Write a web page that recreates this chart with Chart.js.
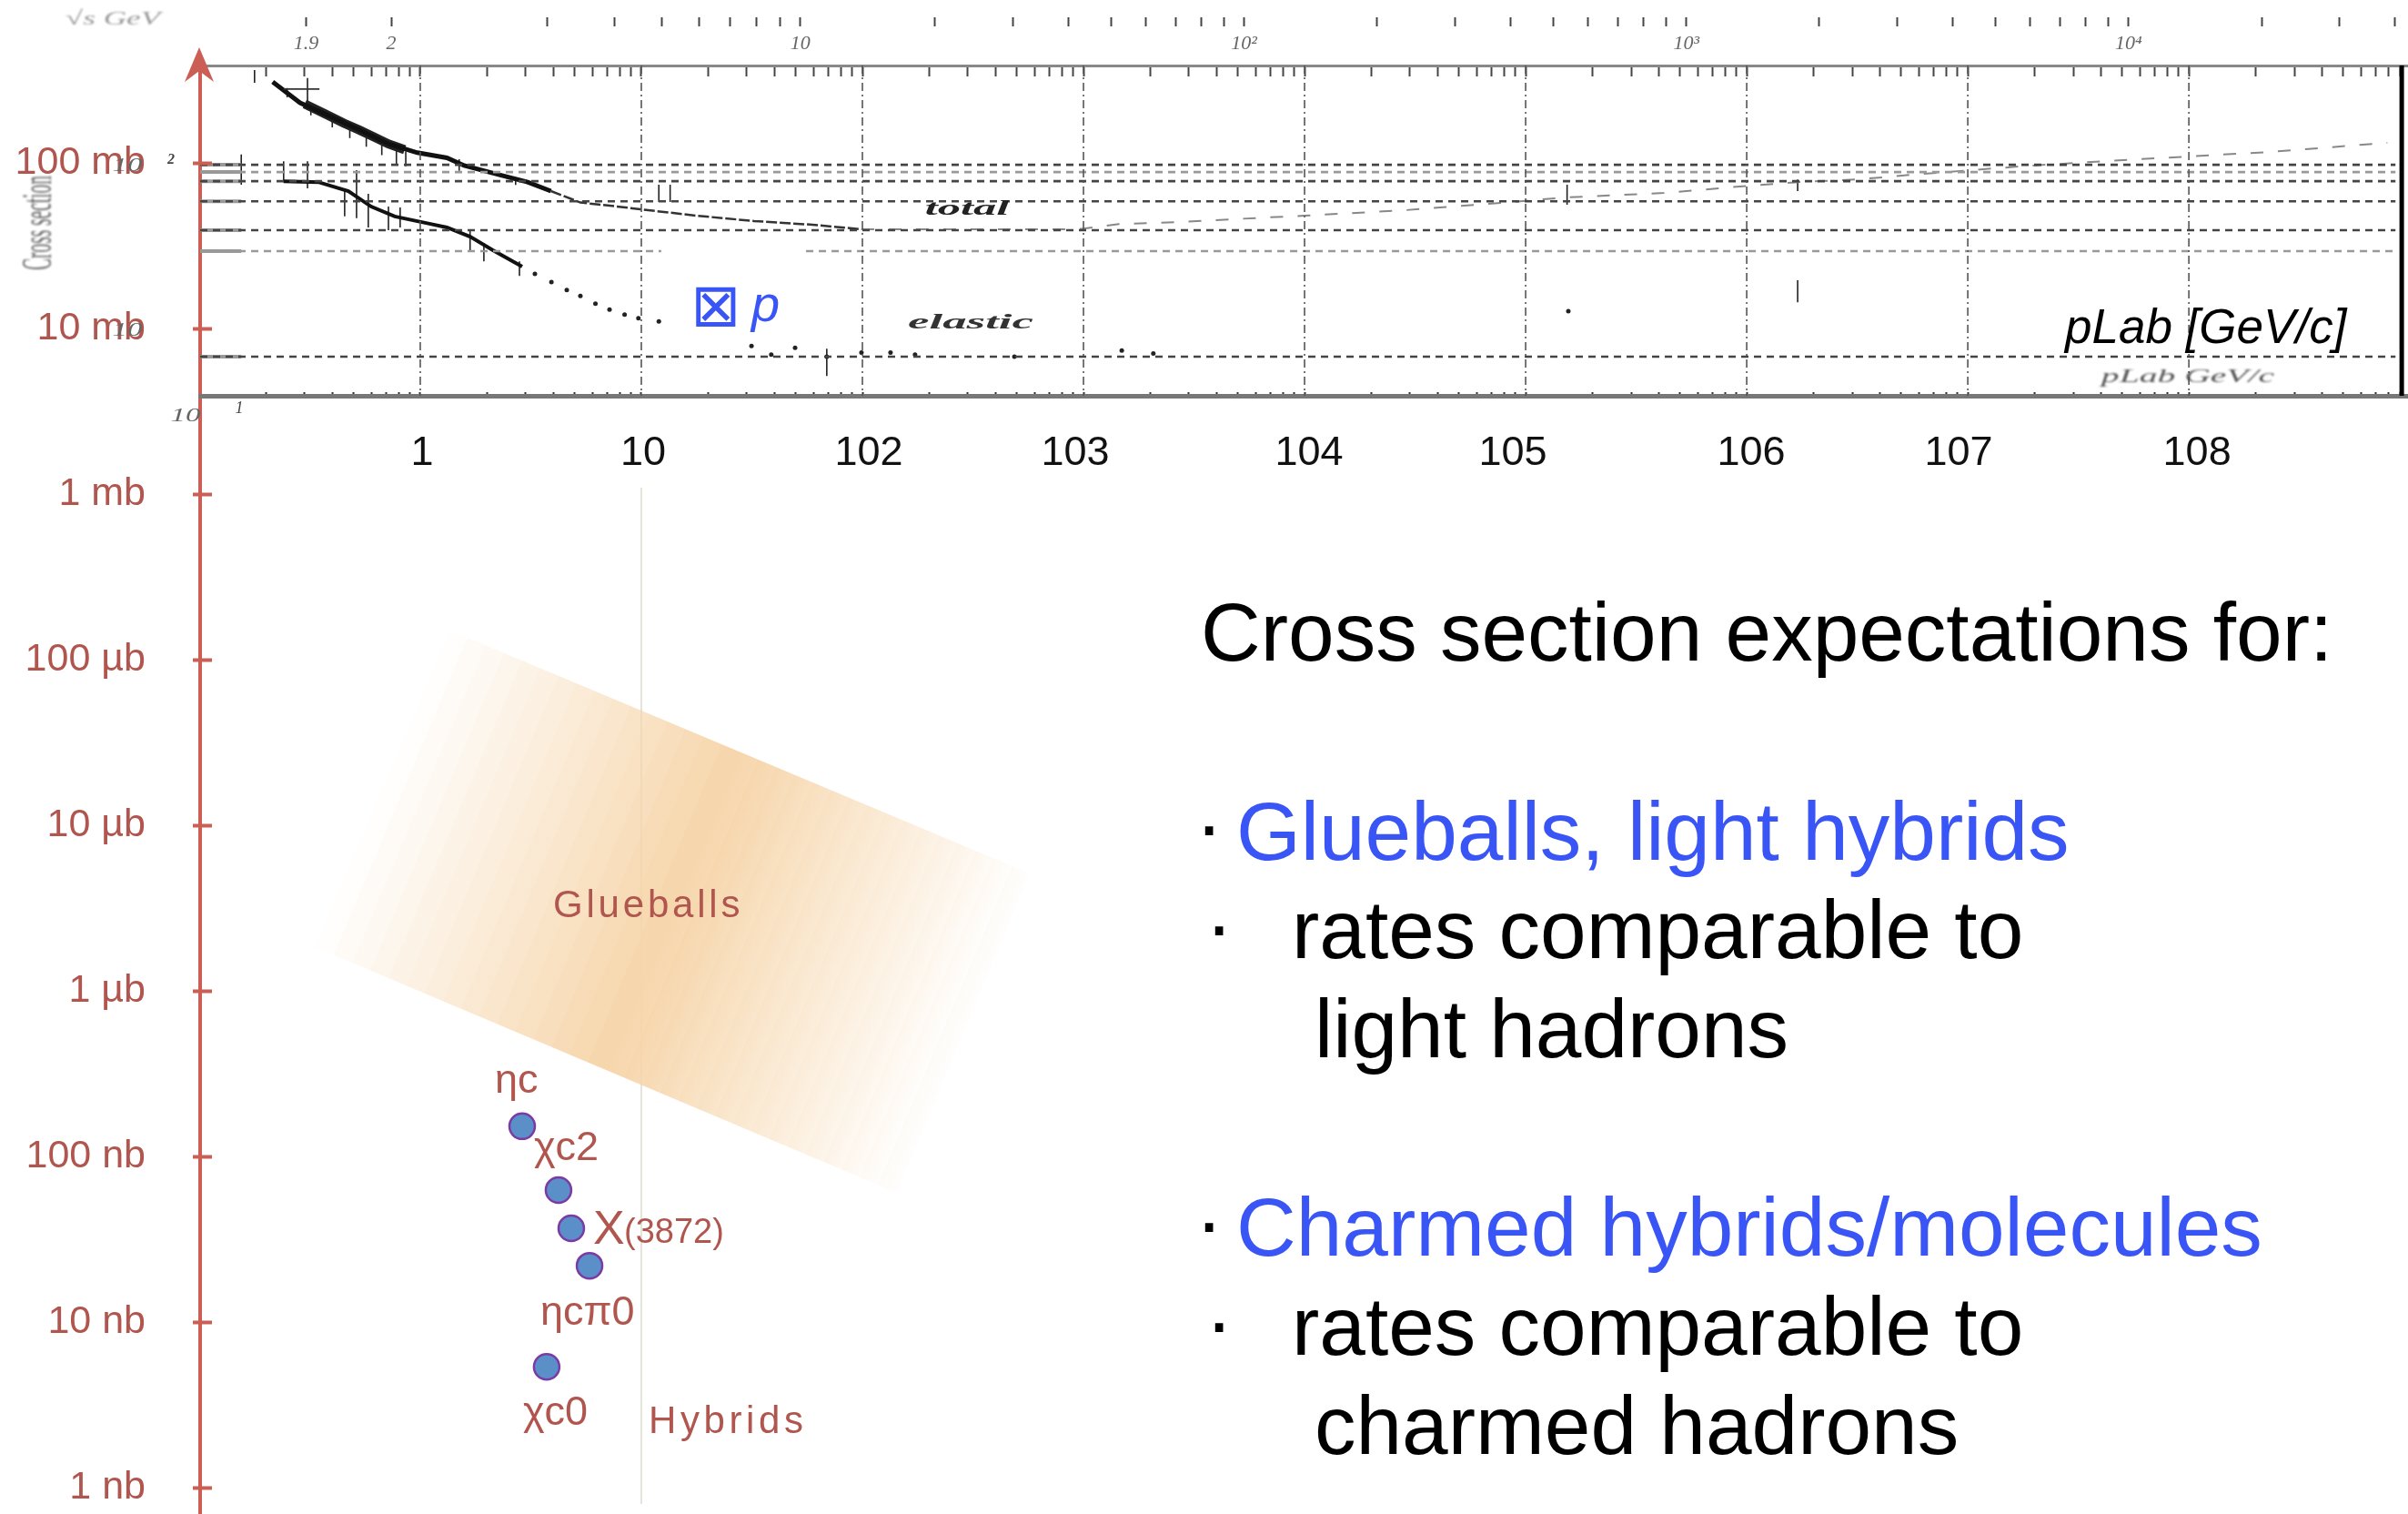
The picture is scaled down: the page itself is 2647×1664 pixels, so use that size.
<!DOCTYPE html>
<html>
<head>
<meta charset="utf-8">
<title>Cross section expectations</title>
<script src="https://cdn.jsdelivr.net/npm/chart.js@4/dist/chart.umd.min.js"></script>
<style>
  html, body { margin: 0; background: #fff; }
  canvas { display: block; }
</style>
</head>
<body>
<canvas id="chart" width="2647" height="1664"></canvas>
<script>
/* ── Data: x is pLab in GeV/c, y is cross section in mb ── */
const yTicks = [100, 10, 1, 0.1, 0.01, 0.001, 1e-4, 1e-5, 1e-6];
const yTickLabels = ['100 mb', '10 mb', '1 mb', '100 µb', '10 µb', '1 µb', '100 nb', '10 nb', '1 nb'];

const xDecades = [1, 10, 100, 1e3, 1e4, 1e5, 1e6, 1e7, 1e8];
const xTickLabels = ['1', '10', '102', '103', '104', '105', '106', '107', '108'];

const sqrtS = [1.9, 2, 3, 4, 5, 6, 7, 8, 9, 10, 20, 30, 40, 50, 60, 70, 80, 90, 100,
  200, 300, 400, 500, 600, 700, 800, 900, 1000, 2000, 3000, 4000, 5000, 6000, 7000, 8000, 9000, 1e4, 2e4, 3e4, 4e4];
const sqrtSLabels = { 1.9: '1.9', 2: '2', 10: '10', 100: '10²', 1000: '10³', 10000: '10⁴' };

const totalDenseX = [0.215, 0.286, 0.37, 0.53, 0.718, 0.97, 1.32, 1.58, 2.3, 3.06, 3.9];
const totalDenseY = [310, 232, 199, 159, 131, 116, 108, 97, 85, 77, 68];
const totalCoreX = [0.3, 0.37, 0.45, 0.53, 0.62, 0.718, 0.85];
const totalCoreY = [228, 199, 175, 159, 144, 131, 121];
const totalMidX = [3.9, 5.3, 7.2, 9.9, 17.7, 32.4, 59.4, 99];
const totalMidY = [68, 58, 55.5, 52.8, 48.3, 44.8, 42.6, 40];
const totalHighX = [99, 164, 300, 551, 944, 1445, 2810, 6530, 1e4, 27800, 77500, 150000, 423000, 927000,
  1.7e6, 3.2e6, 6.3e6, 1.94e7, 6e7, 2.3e8, 7.9e8];
const totalHighY = [40, 40, 40, 40, 40, 43, 44.3, 47, 48.3, 52, 57.7, 62.2, 66.2, 72.4, 77, 80, 86.5, 96.9, 106, 117, 133];

const elasticDenseX = [0.241, 0.346, 0.473, 0.6, 0.767, 1.1, 1.32, 1.68, 2.13, 2.89];
const elasticDenseY = [78, 77, 68, 54.8, 47.8, 43.2, 41, 36.1, 29.9, 23.8];
const elasticDotsX = [3.3, 3.92, 4.6, 5.3, 6.2, 7.18, 8.4, 9.7, 12, 31.5, 38.7, 49.6, 69, 99, 134, 173, 487, 1490, 2070, 156000];
const elasticDotsY = [21.5, 19.2, 17.2, 15.8, 14.2, 13.1, 12.2, 11.6, 11.1, 7.9, 7, 7.7, 6.8, 7.2, 7.2, 7, 6.8, 7.4, 7.1, 12.8];

const errX = [0.155, 0.178, 0.241, 0.309, 0.309, 0.455, 0.515, 0.582, 0.718, 0.811, 1.68, 1.94, 2.81, 12, 13.5, 69, 154000, 1.7e6, 1.7e6,
  0.25, 0.32, 0.4, 0.48, 0.57, 0.67, 0.78, 0.86, 1.5, 2.7];
const errLo = [74.3, 306, 77, 220, 70.6, 47.8, 46.6, 41, 39.5, 41, 29.1, 25.6, 20.9, 58.4, 58.4, 5.2, 56.2, 68, 14.5,
  250, 195, 165, 142, 126, 112, 98, 96, 90, 74];
const errHi = [113, 366, 103, 327, 103, 70.6, 91, 65.5, 54.8, 54.2, 39.5, 33, 25.6, 74.3, 74.3, 7.6, 74.3, 80, 19.7,
  285, 222, 190, 162, 146, 132, 124, 118, 106, 82];

const hLineValues = [98, 78, 59, 39.5, 6.8];
const hLineLight = [88.6, 29.5];

const particleNames = ['ηc', 'χc2', 'X(3872)', 'ηcπ0', 'χc0'];
const particleX = [2.89, 4.22, 4.82, 5.83, 3.73];
const particleY = [1.53e-4, 6.3e-5, 3.7e-5, 2.2e-5, 5.4e-6];

const glueballX = [1.37, 571, 143, 0.333];
const glueballY = [0.151, 0.00514, 6.07e-5, 0.00185];

/* ── Axis extents ───────────────────────────────── */
const X_MIN = 0.101, X_MAX = 9.8e8;
const Y_MIN = 6.97e-7, Y_MAX = 389.7;
const PANEL_BOTTOM = 3.94;
const LINE_END = 8.6e8, RIGHT_EDGE = 9.18e8, STUB_END = 0.155;

const RED = '#cb5f55', RED_TEXT = '#b0564e', BLUE = '#3a55f5';
const SANS = '"Liberation Sans", Arial, sans-serif';
const SERIF = '"Liberation Serif", serif';

/* ── Helpers ────────────────────────────────────── */
const zip = (xs, ys) => xs.map((x, i) => ({ x, y: ys[i] }));

// proton on proton at rest: convert sqrt(s) to lab momentum
function plabFromSqrtS(t) {
  const m = 0.938;
  const e = (t * t - 2 * m * m) / (2 * m);
  return Math.sqrt(e * e - m * m);
}

function hSegments(values, gapFrom, gapTo) {
  const out = [];
  values.forEach(v => {
    if (v === 29.5) {
      out.push({ x: X_MIN, y: v }, { x: gapFrom, y: v }, { x: gapFrom, y: null }, { x: gapTo, y: v }, { x: LINE_END, y: v }, { x: LINE_END, y: null });
    } else {
      out.push({ x: X_MIN, y: v }, { x: LINE_END, y: v }, { x: LINE_END, y: null });
    }
  });
  return out;
}

function frameTicks() {
  const out = [];
  for (let d = -1; d <= 8; d++) {
    for (let m = 1; m <= 9; m++) {
      const v = m * Math.pow(10, d);
      if (v > X_MIN && v < X_MAX) out.push(v);
    }
  }
  return out;
}

function glueballFill(context) {
  const chart = context.chart;
  if (!chart.chartArea) return 'rgba(246,213,170,0.5)';
  const { x, y } = chart.scales;
  const px = i => [x.getPixelForValue(glueballX[i]), y.getPixelForValue(glueballY[i])];
  const [a, b, c, d] = [px(0), px(1), px(2), px(3)];
  const g = chart.ctx.createLinearGradient((a[0] + d[0]) / 2, (a[1] + d[1]) / 2, (b[0] + c[0]) / 2, (b[1] + c[1]) / 2);
  const bands = 16;
  for (let i = 0; i < bands; i++) {
    const alpha = (i + 0.5) / bands;
    const col = `rgba(246,213,170,${alpha})`;
    g.addColorStop(i / (2 * bands), col);
    g.addColorStop((i + 1) / (2 * bands), col);
    g.addColorStop(1 - (i + 1) / (2 * bands), col);
    g.addColorStop(1 - i / (2 * bands), col);
  }
  return g;
}

// no reserved space: pinned axes live inside the chart area
function noSpace(s) {
  s.height = 0;
  s.paddingLeft = s.paddingRight = s.paddingTop = s.paddingBottom = 0;
}

// thin log x axis pinned to a height on the y scale
function pinnedAxis(yValue, ticks, extra) {
  return Object.assign({
    type: 'logarithmic',
    min: X_MIN,
    max: X_MAX,
    position: { y: yValue },
    afterFit: noSpace,
    afterBuildTicks: s => { s.ticks = ticks.map(value => ({ value })); },
    ticks: { display: false, autoSkip: false, maxRotation: 0, minRotation: 0 },
    grid: { drawOnChartArea: false, drawTicks: true, tickLength: 10, tickColor: '#444', tickWidth: 2 },
    border: { display: false }
  }, extra);
}

/* ── Text and arrow drawn on top ────────────────── */
function put(ctx, str, x, y, o) {
  ctx.save();
  ctx.translate(x, y);
  if (o.rot) ctx.rotate(o.rot);
  if (o.sx || o.sy) ctx.scale(o.sx || 1, o.sy || 1);
  ctx.font = o.font;
  ctx.fillStyle = o.color || '#000';
  ctx.textAlign = o.align || 'left';
  ctx.textBaseline = 'alphabetic';
  if (o.spacing) ctx.letterSpacing = o.spacing;
  if (o.blur) ctx.filter = `blur(${o.blur}px)`;
  ctx.fillText(str, 0, 0);
  ctx.restore();
}

const overlay = {
  id: 'overlay',
  beforeDraw(chart) {
    // hand placed x labels in the original sit a little off their gridlines
    const nudges = [2, 2, 7, -9, 5, -14, 5, -10, 9];
    chart.scales.x.getLabelItems().forEach((it, i) => { it.options.translation[0] += nudges[i]; });
  },
  afterDraw(chart) {
    const { ctx, scales: { y } } = chart;
    const axisX = y.right;

    // y axis tick marks cross the line
    ctx.strokeStyle = RED;
    ctx.lineWidth = 4;
    y.ticks.forEach(t => {
      const py = y.getPixelForValue(t.value);
      ctx.beginPath();
      ctx.moveTo(axisX - 8, py);
      ctx.lineTo(axisX + 13, py);
      ctx.stroke();
    });

    // arrow head
    ctx.fillStyle = RED;
    ctx.beginPath();
    ctx.moveTo(axisX - 1, 52);
    ctx.lineTo(axisX + 15, 90);
    ctx.lineTo(axisX - 1, 78);
    ctx.lineTo(axisX - 17, 90);
    ctx.closePath();
    ctx.fill();

    // leftovers of the scanned plot
    const scan = { font: `italic 22px ${SERIF}`, color: '#666', sx: 1.5, blur: 0.7, align: 'center' };
    put(ctx, '√s GeV', 124, 27, { font: `italic 22px ${SERIF}`, color: '#9a9a9a', sx: 1.6, blur: 0.8, align: 'center' });
    put(ctx, 'Cross section', 56, 245, { font: `46px ${SERIF}`, color: '#666', rot: -Math.PI / 2, sx: 0.42, align: 'center', blur: 0.8 });
    put(ctx, '2', 188, 180, { font: `bold italic 16px ${SERIF}`, color: '#444', blur: 0.5, align: 'center' });
    put(ctx, '10', 140, 188, scan);
    put(ctx, '10', 140, 369, scan);
    put(ctx, '1', 263, 454, { font: `italic 18px ${SERIF}`, color: '#444', blur: 0.5, align: 'center' });
    put(ctx, '10', 204, 463, scan);
    put(ctx, 'total', 1063, 236, { font: `bold italic 24px ${SERIF}`, color: '#222', sx: 2.1, blur: 0.6, align: 'center' });
    put(ctx, 'elastic', 1067, 361, { font: `bold italic 24px ${SERIF}`, color: '#333', sx: 2.2, blur: 0.6, align: 'center' });
    put(ctx, 'pLab GeV/c', 2405, 420, { font: `italic 22px ${SERIF}`, color: '#555', sx: 1.8, blur: 0.8, align: 'center' });

    // axis captions
    put(ctx, 'pLab [GeV/c]', 2270, 377, { font: `italic 53px ${SANS}`, color: '#000' });
    put(ctx, '⊠', 787, 358, { font: '66px "DejaVu Sans"', color: BLUE, align: 'center' });
    put(ctx, 'p', 826, 353, { font: `italic 56px ${SANS}`, color: BLUE });

    // particle names
    const red = { font: `45px ${SANS}`, color: RED_TEXT };
    put(ctx, 'Glueballs', 608, 1008, { font: `42px ${SANS}`, color: RED_TEXT, spacing: '3.8px' });
    put(ctx, 'Hybrids', 713, 1575, { font: `42px ${SANS}`, color: RED_TEXT, spacing: '4.6px' });
    put(ctx, particleNames[0], 544, 1201, red);
    put(ctx, particleNames[1], 587, 1275, red);
    put(ctx, 'X', 652, 1367, { font: `52px ${SANS}`, color: RED_TEXT });
    put(ctx, '(3872)', 686, 1366, { font: `38px ${SANS}`, color: RED_TEXT });
    put(ctx, particleNames[3], 594, 1456, red);
    put(ctx, particleNames[4], 575, 1566, red);

    // text block on the right
    const big = { font: `91px ${SANS}`, color: '#000' };
    const blue = { font: `91px ${SANS}`, color: BLUE };
    put(ctx, 'Cross section expectations for:', 1320, 726, big);
    put(ctx, '·', 1314, 938, big);
    put(ctx, 'Glueballs, light hybrids', 1359, 945, blue);
    put(ctx, '·', 1325, 1048, big);
    put(ctx, 'rates comparable to', 1420, 1053, big);
    put(ctx, 'light hadrons', 1445, 1162, big);
    put(ctx, '·', 1314, 1374, big);
    put(ctx, 'Charmed hybrids/molecules', 1359, 1380, blue);
    put(ctx, '·', 1325, 1484, big);
    put(ctx, 'rates comparable to', 1420, 1489, big);
    put(ctx, 'charmed hadrons', 1445, 1598, big);
  }
};

/* ── Chart ──────────────────────────────────────── */
const line = (data, color, width, extra) => Object.assign({
  data, showLine: true, borderColor: color, borderWidth: width, pointRadius: 0, spanGaps: false
}, extra);

const gridData = [];
xDecades.forEach(x => gridData.push({ x, y: Y_MAX }, { x, y: PANEL_BOTTOM }, { x, y: null }));

const errData = [];
errX.forEach((x, i) => errData.push({ x, y: errLo[i] }, { x, y: errHi[i] }, { x, y: null }));

const stubData = [];
hLineValues.concat(hLineLight).forEach(y => stubData.push({ x: X_MIN, y }, { x: STUB_END, y }, { x: STUB_END, y: null }));

new Chart(document.getElementById('chart'), {
  type: 'scatter',
  data: {
    datasets: [
      line(zip(glueballX, glueballY), 'transparent', 0, { fill: 'shape', backgroundColor: glueballFill }),
      line([{ x: 10, y: 1.1 }, { x: 10, y: 8e-7 }], '#e4e4da', 2),
      line(gridData, '#555', 1.6, { borderDash: [9, 4, 2, 4] }),
      line(hSegments(hLineValues, 12.3, 55.6), '#444', 2.6, { borderDash: [8, 6] }),
      line(hSegments(hLineLight, 12.3, 55.6), '#999', 2.6, { borderDash: [8, 6] }),
      line(stubData, '#999', 4),
      line([{ x: 0.241, y: 281 }, { x: 0.35, y: 281 }], '#333', 1.6),
      line(zip(totalDenseX, totalDenseY), '#111', 5),
      line(zip(totalCoreX, totalCoreY), '#222', 10),
      line(zip(totalMidX, totalMidY), '#333', 2.5, { borderDash: [12, 3] }),
      line(zip(totalHighX, totalHighY), '#888', 2, { borderDash: [14, 16] }),
      line(zip(elasticDenseX, elasticDenseY), '#111', 4),
      { data: zip(elasticDotsX, elasticDotsY), pointRadius: 2.5, pointBackgroundColor: '#222', pointBorderWidth: 0 },
      line(errData, '#222', 1.6),
      line([{ x: RIGHT_EDGE, y: Y_MAX }, { x: RIGHT_EDGE, y: PANEL_BOTTOM }], '#000', 5),
      {
        data: zip(particleX, particleY),
        pointRadius: 14,
        pointBackgroundColor: '#5a8fc8',
        pointBorderColor: '#7b3aa6',
        pointBorderWidth: 2.5
      }
    ]
  },
  options: {
    responsive: false,
    animation: false,
    events: [],
    layout: { autoPadding: false, padding: { top: 72, right: 0, bottom: 0, left: 0 } },
    plugins: { legend: { display: false }, tooltip: { enabled: false } },
    scales: {
      y: {
        type: 'logarithmic',
        min: Y_MIN,
        max: Y_MAX,
        position: 'left',
        afterFit: s => {
          s.width = 220;
          s.paddingTop = s.paddingBottom = 0;
        },
        afterBuildTicks: s => { s.ticks = yTicks.map(value => ({ value })); },
        grid: { display: false, drawTicks: false },
        border: { display: true, color: RED, width: 4 },
        ticks: {
          autoSkip: false,
          padding: 60,
          color: RED_TEXT,
          font: { family: SANS, size: 43 },
          callback: v => yTickLabels[yTicks.indexOf(v)] ?? ''
        }
      },
      x: {
        type: 'logarithmic',
        min: X_MIN,
        max: X_MAX,
        position: { y: PANEL_BOTTOM },
        afterFit: noSpace,
        afterBuildTicks: s => { s.ticks = xDecades.map(value => ({ value })); },
        grid: { display: false, drawTicks: false },
        border: { display: true, color: '#777', width: 5 },
        ticks: {
          autoSkip: false,
          maxRotation: 0,
          minRotation: 0,
          padding: 36,
          color: '#111',
          font: { family: SANS, size: 45 },
          callback: v => xTickLabels[xDecades.indexOf(v)] ?? ''
        }
      },
      xSqrtS: pinnedAxis(762, sqrtS.map(plabFromSqrtS), {
        ticks: {
          display: true,
          autoSkip: false,
          maxRotation: 0,
          minRotation: 0,
          padding: 6,
          color: '#666',
          font: { family: SERIF, size: 22, style: 'italic' },
          callback: (v, i) => sqrtSLabels[sqrtS[i]] ?? ''
        }
      }),
      xFrame: pinnedAxis(Y_MAX, frameTicks(), {
        border: { display: true, color: '#888', width: 3 }
      }),
      xFrameLow: pinnedAxis(4.15, frameTicks(), {
        grid: { drawOnChartArea: false, drawTicks: true, tickLength: 5, tickColor: '#333', tickWidth: 2 }
      })
    }
  },
  plugins: [overlay]
});
</script>
</body>
</html>
